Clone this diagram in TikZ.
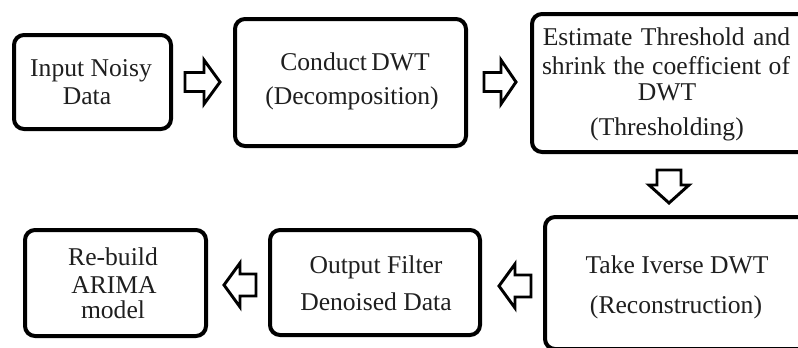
\documentclass[tikz,border=0pt]{standalone}
\usepackage{fontspec}
\setmainfont{Liberation Serif}
\begin{document}
\begin{tikzpicture}[x=0.75pt,y=-0.75pt,
  box/.style={draw=black,line width=3pt,rounded corners=7.5pt,inner sep=0pt,outer sep=0pt},
  arrowline/.style={draw=black,line width=2.2pt,fill=white,line join=miter},
  txt/.style={anchor=base,inner sep=0pt,outer sep=0pt,font=\fontsize{19.2}{23}\selectfont,text=black!88}]
\useasboundingbox (0,0) rectangle (798,347);
\clip (0,0) rectangle (798,347);
% boxes
\node[box,minimum width=117.75pt,minimum height=70.5pt] (b1) at (92.5,82) {};
\node[box,minimum width=173.25pt,minimum height=95.25pt] (b2) at (350.5,82.5) {};
\node[box,minimum width=210pt,minimum height=103.5pt] (b3) at (672,83) {};
\node[box,minimum width=200.25pt,minimum height=99pt] (b4) at (678.5,283) {};
\node[box,minimum width=157.5pt,minimum height=78.75pt] (b5) at (375,282.5) {};
\node[box,minimum width=135.75pt,minimum height=79.5pt] (b6) at (115.5,283) {};
% texts
\node[txt] (t1a) at (91,76) {Input Noisy};
\node[txt] (t1b) at (87,104) {Data};
\node[txt] (t2a) at (355,70) {Conduct\,DWT};
\node[txt] (t2b) at (352,104) {(Decomposition)};
\node[txt] (t3a) at (666.5,45) {\makebox[185.5pt][s]{Estimate Threshold and}};
\node[txt] (t3b) at (666,74) {\makebox[186pt][s]{shrink the coefficient of}};
\node[txt] (t3c) at (667,100) {DWT};
\node[txt] (t3d) at (667,135) {(Thresholding)};
\node[txt] (t4a) at (677,273) {Take Iverse DWT};
\node[txt] (t4b) at (676,313) {(Reconstruction)};
\node[txt] (t5a) at (376,273) {Output Filter};
\node[txt] (t5b) at (376,310) {Denoised Data};
\node[txt] (t6a) at (113,265) {Re-build};
\node[txt] (t6b) at (114,293) {ARIMA};
\node[txt] (t6c) at (113,318) {model};
% block arrows
\path[arrowline] (185,72.5)--(204,72.5)--(204,60)--(220,82)--(204,104)--(204,91.5)--(185,91.5)--cycle;
\path[arrowline] (484,72.5)--(501,72.5)--(501,60)--(516,82)--(501,104)--(501,91.5)--(484,91.5)--cycle;
\path[arrowline] (657,170)--(681,170)--(681,185)--(689,185)--(669,203)--(649,185)--(657,185)--cycle;
\path[arrowline] (531,275)--(515,275)--(515,264)--(499,286)--(515,308)--(515,297)--(531,297)--cycle;
\path[arrowline] (256,274)--(240,274)--(240,263)--(224,285)--(240,307)--(240,296)--(256,296)--cycle;
\end{tikzpicture}
\end{document}
